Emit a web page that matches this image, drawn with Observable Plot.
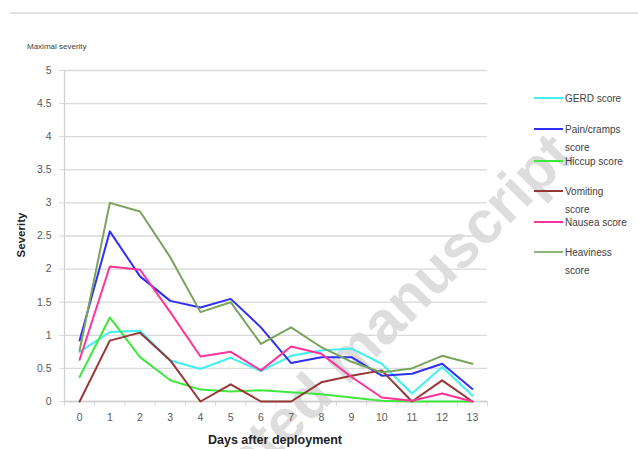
<!DOCTYPE html>
<html>
<head>
<meta charset="utf-8">
<script src="https://cdn.jsdelivr.net/npm/d3@7"></script>
<script src="https://cdn.jsdelivr.net/npm/@observablehq/plot@0.6"></script>
<style>
  html, body { margin: 0; padding: 0; background: #fff; }
  #chart { width: 638px; height: 449px; overflow: hidden; }
</style>
</head>
<body>
<div id="chart"></div>
<script>
const days = [0,1,2,3,4,5,6,7,8,9,10,11,12,13];
const seriesNames = ["GERD score","Pain/cramps score","Hiccup score","Vomiting score","Nausea score","Heaviness score"];
const seriesColors = ["#3ff0f0","#2f2ff5","#3ee83e","#953735","#ff3399","#77a35c"];
const gerd      = [0.75,1.05,1.07,0.62,0.49,0.66,0.46,0.69,0.77,0.80,0.57,0.12,0.52,0.09];
const pain      = [0.92,2.57,1.89,1.52,1.42,1.55,1.12,0.58,0.67,0.67,0.39,0.42,0.57,0.19];
const hiccup    = [0.37,1.27,0.67,0.32,0.18,0.15,0.17,0.14,0.11,0.06,0.01,0,0,0];
const vomiting  = [0,0.92,1.04,0.62,0,0.26,0,0,0.29,0.39,0.47,0,0.32,0];
const nausea    = [0.63,2.04,1.99,1.35,0.68,0.75,0.47,0.83,0.72,0.37,0.06,0.01,0.12,0];
const heaviness = [0.77,3.0,2.87,2.18,1.35,1.50,0.87,1.12,0.82,0.60,0.44,0.50,0.69,0.57];
const yTicks = [0,0.5,1,1.5,2,2.5,3,3.5,4,4.5,5];
const xTickMarks = [-0.5,0.5,1.5,2.5,3.5,4.5,5.5,6.5,7.5,8.5,9.5,10.5,11.5,12.5,13.5];
const legendLines = [["GERD score"],["Pain/cramps","score"],["Hiccup score"],["Vomiting","score"],["Nausea score"],["Heaviness","score"]];
const allSeries = [gerd, pain, hiccup, vomiting, nausea, heaviness];

const rows = [];
allSeries.forEach((vals, i) => vals.forEach((v, j) => rows.push({series: seriesNames[i], day: days[j], value: v})));

const font = "'Liberation Sans', Arial, sans-serif";

const plot = Plot.plot({
  width: 638,
  height: 449,
  marginLeft: 64,
  marginRight: 151,
  marginTop: 70,
  marginBottom: 48,
  style: {fontFamily: font, background: "#fff", overflow: "visible"},
  x: {domain: [-0.5, 13.5]},
  y: {domain: [0, 5]},
  color: {domain: seriesNames.slice(), range: seriesColors.slice()},
  marks: [
    Plot.ruleY(yTicks, {y: d => d, x1: -0.5, x2: 13.5, stroke: "#d9d9d9", strokeWidth: 1.3}),
    Plot.axisY(yTicks, {tickSize: 5, tickPadding: 8, stroke: "#d9d9d9", fill: "#595959", fontSize: 10.5, tickFormat: d => String(d), label: null}),
    Plot.axisX(xTickMarks, {tickSize: 5, tickFormat: () => "", stroke: "#d9d9d9", label: null}),
    Plot.axisX(days, {tickSize: 0, tickPadding: 12, fill: "#595959", fontSize: 10.5, tickFormat: d => String(d), label: null}),
    Plot.ruleX([-0.5], {stroke: "#d0d0d0", strokeWidth: 1.3}),
    Plot.ruleY([0], {x1: -0.5, x2: 13.5, stroke: "#d0d0d0", strokeWidth: 1.3}),
    Plot.lineY(rows, {x: "day", y: "value", z: "series", stroke: "series", strokeWidth: 2})
  ]
});

document.getElementById("chart").appendChild(plot);

const svg = d3.select(plot);
// watermark (beneath the lines)
svg.insert("text", ":first-child")
  .attr("transform", "translate(576,158) rotate(-45)")
  .attr("text-anchor", "end")
  .attr("font-family", font)
  .attr("font-weight", "bold")
  .attr("font-size", 60)
  .attr("fill", "#dddddd")
  .text("Accepted manuscript");
svg.insert("rect", ":first-child").attr("width", 638).attr("height", 449).attr("fill", "#fff");

// top grey rule
svg.append("line").attr("x1", 10).attr("x2", 638).attr("y1", 13).attr("y2", 13)
  .attr("stroke", "#e3e3e3").attr("stroke-width", 2);

svg.append("text").attr("x", 27).attr("y", 49).attr("text-anchor", "start").attr("font-family", font)
  .attr("font-size", 8).attr("fill", "#404040").text("Maximal severity");

svg.append("text").attr("transform", "translate(25,235) rotate(-90)")
  .attr("text-anchor", "middle").attr("font-family", font).attr("font-weight", "bold")
  .attr("font-size", 11.5).attr("fill", "#222").text("Severity");

svg.append("text").attr("x", 275).attr("y", 444).attr("text-anchor", "middle")
  .attr("font-family", font).attr("font-weight", "bold")
  .attr("font-size", 12.5).attr("fill", "#222").text("Days after deployment");

// legend
const legendY = [98, 129, 161, 191, 222, 252];
const legendColors = ["#3ff0f0","#2f2ff5","#3ee83e","#953735","#ff3399","#8cb376"];
seriesNames.forEach((name, i) => {
  const y = legendY[i];
  svg.append("line").attr("x1", 534).attr("x2", 563).attr("y1", y).attr("y2", y)
    .attr("stroke", legendColors[i]).attr("stroke-width", 2);
  legendLines[i].forEach((t, k) => {
    svg.append("text").attr("x", 565).attr("y", y + 3.5 + k * 18).attr("text-anchor", "start")
      .attr("font-family", font).attr("font-size", 10).attr("fill", "#404040").text(t);
  });
});
</script>
</body>
</html>
